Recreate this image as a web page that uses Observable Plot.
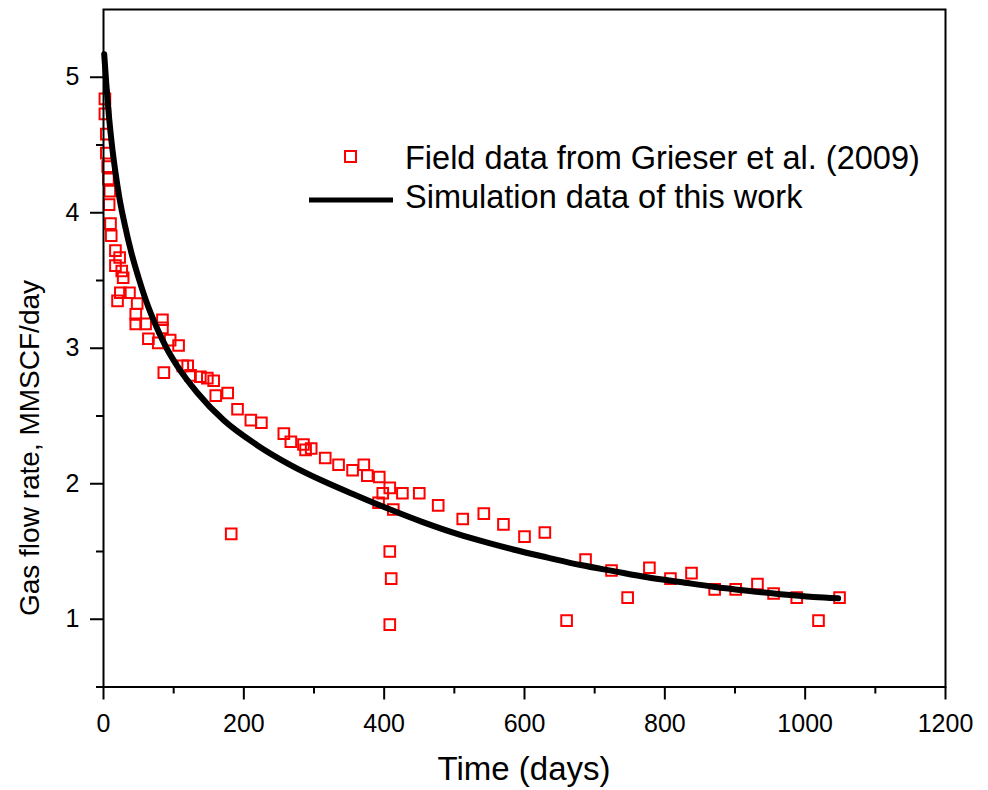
<!DOCTYPE html>
<html><head><meta charset="utf-8">
<script src="https://cdn.jsdelivr.net/npm/d3@7"></script>
<script src="https://cdn.jsdelivr.net/npm/@observablehq/plot@0.6"></script>
<style>
body{margin:0;background:#fff;}
#chart{width:988px;height:790px;}
</style></head><body><div id="chart"></div>
<script>
// Field data (Grieser et al., 2009): time in days, gas rate in MMSCF/day
const fieldDays = [2,2,4,4,6,7,8,9,10,11,17,17,20,23,24,26,28,37,46,46,48,60,64,78,84,84,86,95,107,113,120,124,138,148,157,160,177,182,191,210,225,257,267,285,288,296,316,335,355,371,376,392,393,398,408,408,410,408,413,426,450,477,512,542,570,600,629,660,687,724,747,778,808,838,871,901,932,955,988,1019,1049];
const fieldRate = [4.84,4.73,4.58,4.44,4.34,4.25,4.06,4.16,3.92,3.83,3.72,3.61,3.35,3.67,3.41,3.57,3.52,3.41,3.25,3.18,3.33,3.18,3.07,3.04,3.21,3.15,2.82,3.06,3.02,2.87,2.87,2.80,2.79,2.78,2.76,2.65,2.67,1.63,2.55,2.47,2.45,2.37,2.31,2.29,2.25,2.26,2.19,2.14,2.10,2.14,2.06,1.86,2.05,1.93,1.97,1.50,1.30,0.96,1.81,1.93,1.93,1.84,1.74,1.78,1.70,1.61,1.64,0.99,1.44,1.36,1.16,1.38,1.30,1.34,1.22,1.22,1.26,1.19,1.16,0.99,1.16];
// Simulation curve of this work
const simDays = [1,4,8,12,17,23,30,40,50,60,77,90,105,134,171,219,266,313,362,399,456,504,551,584,633,680,727,775,822,869,918,965,1012,1047];
const simRate = [5.17,4.95,4.70,4.50,4.30,4.10,3.92,3.70,3.52,3.36,3.14,3.00,2.87,2.67,2.47,2.285,2.14,2.02,1.91,1.83,1.715,1.63,1.56,1.515,1.455,1.40,1.355,1.31,1.275,1.24,1.21,1.185,1.165,1.155];

const xMajorTicks = [0,200,400,600,800,1000,1200];
const xMinorTicks = [100,300,500,700,900,1100];
const yMajorTicks = [1,2,3,4,5];
const yMinorTicks = [0.5,1.5,2.5,3.5,4.5];
const legendLabels = ["Field data from Grieser et al. (2009)","Simulation data of this work"];
const xTitle = "Time (days)";
const yTitle = "Gas flow rate, MMSCF/day";

const field = fieldDays.map((d,i)=>({day:d, rate:fieldRate[i]}));
const sim = simDays.map((d,i)=>({day:d, rate:simRate[i]}));

const font = "'Liberation Sans', Arial, Helvetica, sans-serif";
const red = "#ff0000";

const svgEl = Plot.plot({
  width:988, height:790,
  marginLeft:103, marginRight:43, marginTop:9, marginBottom:103.5,
  x:{domain:[0,1200]},
  y:{domain:[0.5,5.5]},
  style:{fontFamily:font, fontSize:"25px", background:"#fff", color:"#000"},
  marks:[
    Plot.axisX(xMinorTicks, {tickSize:7, strokeWidth:2, tickFormat:()=>"", label:null}),
    Plot.axisX(xMajorTicks, {tickSize:13, strokeWidth:2, tickPadding:14, label:null, tickFormat:d=>String(d)}),
    Plot.axisY(yMinorTicks, {tickSize:7, strokeWidth:2, tickFormat:()=>"", label:null}),
    Plot.axisY(yMajorTicks, {tickSize:13, strokeWidth:2, tickPadding:11, label:null, tickFormat:d=>String(d)}),
    Plot.dot(field, {x:"day", y:"rate", symbol:"square", r:6, stroke:red, strokeWidth:2, fill:"none"}),
    Plot.line(sim, {x:"day", y:"rate", stroke:"#000", strokeWidth:6, curve:"monotone-x"}),
    Plot.frame({stroke:"#000", strokeWidth:2})
  ]
});
document.getElementById("chart").appendChild(svgEl);

const svg = d3.select(svgEl);
svg.selectAll("text").attr("font-size", 25);
// axis titles
svg.append("text").attr("x", 524).attr("y", 780).attr("text-anchor","middle")
  .attr("font-size", 33).attr("font-family", font).attr("fill","#000").text(xTitle);
svg.append("text").attr("transform","translate(39,448) rotate(-90)").attr("text-anchor","middle")
  .attr("font-size", 28).attr("font-family", font).attr("fill","#000").text(yTitle);

// legend
const lg = svg.append("g").attr("font-family", font).attr("font-size", 32.5).attr("fill","#000").attr("text-anchor","start");
lg.append("rect").attr("x", 345).attr("y", 151).attr("width", 11).attr("height", 11)
  .attr("fill","none").attr("stroke", red).attr("stroke-width", 2);
lg.append("text").attr("x", 405).attr("y", 169).attr("text-anchor","start").text(legendLabels[0]);
lg.append("line").attr("x1", 309).attr("x2", 393).attr("y1", 200).attr("y2", 200)
  .attr("stroke","#000").attr("stroke-width", 5);
lg.append("text").attr("x", 405).attr("y", 208).attr("text-anchor","start").text(legendLabels[1]);
</script>
</body></html>
